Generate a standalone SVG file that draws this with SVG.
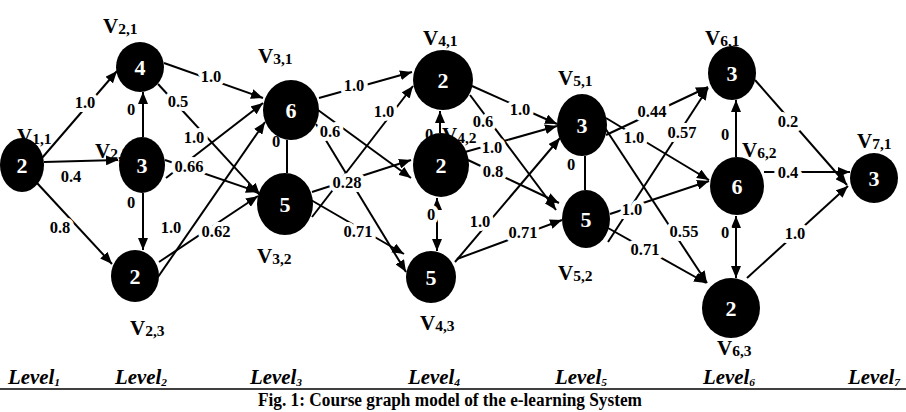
<svg xmlns="http://www.w3.org/2000/svg" width="906" height="412" viewBox="0 0 906 412">
<style>
.e{stroke:#000;stroke-width:2;fill:none}
.a{marker-end:url(#ah)}
.d{marker-start:url(#ah);marker-end:url(#ah)}
.w{font-family:"Liberation Serif",serif;font-weight:bold;font-size:16.5px;text-anchor:middle;fill:#000;stroke:#fff;stroke-width:8px;paint-order:stroke;stroke-linejoin:round}
.n{fill:#000}
.num{font-family:"Liberation Serif",serif;font-weight:bold;font-size:22px;text-anchor:middle;fill:#fff}
.v{font-family:"Liberation Serif",serif;font-weight:bold;font-size:21px;fill:#000}
.s{font-size:15.5px}
.lv{font-family:"Liberation Serif",serif;font-weight:bold;font-style:italic;font-size:20px;fill:#000}
.ls{font-size:11px}
.cap{font-family:"Liberation Serif",serif;font-weight:bold;font-size:18px;text-anchor:middle;fill:#000}
</style>
<defs>
<marker id="ah" viewBox="0 0 12 10" refX="12" refY="5" markerWidth="12" markerHeight="10" markerUnits="userSpaceOnUse" orient="auto-start-reverse"><path d="M0,0 L12,5 L0,10 z" fill="#000"/></marker>
</defs>
<rect width="906" height="412" fill="#fff"/>
<g id="connectors">
<line class="e a" x1="42" y1="158" x2="117" y2="71"/>
<line class="e a" x1="44" y1="162" x2="118" y2="160"/>
<line class="e a" x1="37" y1="183" x2="112" y2="264"/>
<line class="e a" x1="143" y1="137" x2="143" y2="92"/>
<line class="e a" x1="143" y1="193" x2="143" y2="250"/>
<line class="e a" x1="164" y1="63" x2="263" y2="98"/>
<line class="e a" x1="158" y1="84" x2="260" y2="195"/>
<line class="e a" x1="166" y1="178" x2="263" y2="103"/>
<line class="e a" x1="165" y1="160" x2="258" y2="192"/>
<line class="e a" x1="158" y1="277" x2="265" y2="122"/>
<line class="e a" x1="159" y1="262" x2="258" y2="196"/>
<line class="e" x1="287" y1="140" x2="287" y2="173"/>
<line class="e a" x1="319" y1="98" x2="412" y2="72"/>
<line class="e a" x1="312" y1="217" x2="413" y2="86"/>
<line class="e a" x1="312" y1="192" x2="411" y2="160"/>
<line class="e a" x1="311" y1="200" x2="404" y2="254"/>
<line class="e a" x1="318" y1="110" x2="411" y2="178"/>
<line class="e a" x1="316" y1="124" x2="406" y2="272"/>
<line class="e a" x1="440" y1="133" x2="440" y2="111"/>
<line class="e d" x1="437" y1="198" x2="437" y2="251"/>
<line class="e a" x1="472" y1="86" x2="557" y2="124"/>
<line class="e a" x1="470" y1="95" x2="556" y2="210"/>
<line class="e a" x1="465" y1="152" x2="557" y2="126"/>
<line class="e a" x1="468" y1="160" x2="559" y2="203"/>
<line class="e a" x1="455" y1="262" x2="560" y2="138"/>
<line class="e a" x1="457" y1="259" x2="562" y2="220"/>
<line class="e" x1="585" y1="156" x2="585" y2="190"/>
<line class="e a" x1="606" y1="135" x2="708" y2="87"/>
<line class="e a" x1="606" y1="118" x2="709" y2="180"/>
<line class="e a" x1="605" y1="128" x2="707" y2="283"/>
<line class="e a" x1="608" y1="242" x2="708" y2="88"/>
<line class="e a" x1="610" y1="214" x2="709" y2="181"/>
<line class="e a" x1="608" y1="228" x2="706" y2="283"/>
<line class="e a" x1="736" y1="157" x2="736" y2="100"/>
<line class="e d" x1="736" y1="216" x2="736" y2="278"/>
<line class="e a" x1="755" y1="80" x2="847" y2="185"/>
<line class="e a" x1="764" y1="172" x2="850" y2="172"/>
<line class="e a" x1="747" y1="278" x2="848" y2="186"/>
<text class="w" x="85" y="108">1.0</text>
<text class="w" x="71" y="182">0.4</text>
<text class="w" x="60" y="233">0.8</text>
<text class="w" x="131" y="115">0</text>
<text class="w" x="131" y="208">0</text>
<text class="w" x="211" y="82">1.0</text>
<text class="w" x="178" y="107">0.5</text>
<text class="w" x="194" y="143">1.0</text>
<text class="w" x="189" y="172">0.66</text>
<text class="w" x="171" y="233">1.0</text>
<text class="w" x="216" y="237">0.62</text>
<text class="w" x="276" y="147">0</text>
<text class="w" x="354" y="91">1.0</text>
<text class="w" x="384" y="117">1.0</text>
<text class="w" x="347" y="188">0.28</text>
<text class="w" x="358" y="237">0.71</text>
<text class="w" x="330" y="137">0.6</text>
<text class="w" x="429" y="140">0</text>
<text class="w" x="431" y="220">0</text>
<text class="w" x="520" y="115">1.0</text>
<text class="w" x="483" y="127">0.6</text>
<text class="w" x="492" y="153">1.0</text>
<text class="w" x="493" y="177">0.8</text>
<text class="w" x="480" y="227">1.0</text>
<text class="w" x="523" y="238">0.71</text>
<text class="w" x="571" y="170">0</text>
<text class="w" x="652" y="117">0.44</text>
<text class="w" x="634" y="143">1.0</text>
<text class="w" x="684" y="237">0.55</text>
<text class="w" x="682" y="138">0.57</text>
<text class="w" x="632" y="215">1.0</text>
<text class="w" x="645" y="255">0.71</text>
<text class="w" x="725" y="140">0</text>
<text class="w" x="725" y="238">0</text>
<text class="w" x="788" y="127">0.2</text>
<text class="w" x="788" y="178">0.4</text>
<text class="w" x="795" y="239">1.0</text>
</g>
<g id="v11"><text class="v" x="17" y="143">V<tspan class="s" dy="1">1,1</tspan></text><ellipse class="n" cx="22" cy="165" rx="22" ry="27"/><text class="num" x="22" y="172.5">2</text></g>
<g id="v21"><text class="v" x="103" y="33">V<tspan class="s" dy="1">2,1</tspan></text><ellipse class="n" cx="140" cy="67" rx="24" ry="25"/><text class="num" x="140" y="74.5">4</text></g>
<g id="v22"><text class="v" x="95" y="158">V<tspan class="s" dy="1">2,2</tspan></text><ellipse class="n" cx="142" cy="165" rx="23" ry="28"/><text class="num" x="142" y="172.5">3</text></g>
<g id="v23"><text class="v" x="130" y="335">V<tspan class="s" dy="1">2,3</tspan></text><ellipse class="n" cx="135" cy="276" rx="24" ry="26"/><text class="num" x="135" y="283.5">2</text></g>
<g id="v31"><text class="v" x="258" y="63">V<tspan class="s" dy="1">3,1</tspan></text><ellipse class="n" cx="291" cy="110" rx="28" ry="30"/><text class="num" x="291" y="117.5">6</text></g>
<g id="v32"><text class="v" x="257" y="263">V<tspan class="s" dy="1">3,2</tspan></text><ellipse class="n" cx="285" cy="204" rx="28" ry="31"/><text class="num" x="285" y="211.5">5</text></g>
<g id="v41"><text class="v" x="423" y="45">V<tspan class="s" dy="1">4,1</tspan></text><ellipse class="n" cx="443" cy="80" rx="30" ry="30"/><text class="num" x="443" y="87.5">2</text></g>
<g id="v42"><text class="v" x="442" y="142">V<tspan class="s" dy="1">4,2</tspan></text><ellipse class="n" cx="441" cy="165" rx="28" ry="32"/><text class="num" x="441" y="172.5">2</text></g>
<g id="v43"><text class="v" x="420" y="330">V<tspan class="s" dy="1">4,3</tspan></text><ellipse class="n" cx="431" cy="277" rx="25" ry="26"/><text class="num" x="431" y="284.5">5</text></g>
<g id="v51"><text class="v" x="558" y="85">V<tspan class="s" dy="1">5,1</tspan></text><ellipse class="n" cx="582" cy="125" rx="25" ry="31"/><text class="num" x="582" y="132.5">3</text></g>
<g id="v52"><text class="v" x="558" y="280">V<tspan class="s" dy="1">5,2</tspan></text><ellipse class="n" cx="586" cy="219" rx="24" ry="29"/><text class="num" x="586" y="226.5">5</text></g>
<g id="v61"><text class="v" x="705" y="45">V<tspan class="s" dy="1">6,1</tspan></text><ellipse class="n" cx="732" cy="73" rx="24" ry="27"/><text class="num" x="732" y="80.5">3</text></g>
<g id="v62"><text class="v" x="742" y="157">V<tspan class="s" dy="1">6,2</tspan></text><ellipse class="n" cx="737" cy="186" rx="27" ry="29"/><text class="num" x="737" y="193.5">6</text></g>
<g id="v63"><text class="v" x="717" y="355">V<tspan class="s" dy="1">6,3</tspan></text><ellipse class="n" cx="731" cy="308" rx="29" ry="30"/><text class="num" x="731" y="315.5">2</text></g>
<g id="v71"><text class="v" x="857" y="148">V<tspan class="s" dy="1">7,1</tspan></text><ellipse class="n" cx="874" cy="178" rx="24" ry="25"/><text class="num" x="874" y="185.5">3</text></g>
<g id="levels">
<text class="lv" x="8" y="384" textLength="52" lengthAdjust="spacingAndGlyphs">Level<tspan class="ls" dy="2">1</tspan></text>
<text class="lv" x="115" y="384" textLength="52" lengthAdjust="spacingAndGlyphs">Level<tspan class="ls" dy="2">2</tspan></text>
<text class="lv" x="250" y="384" textLength="52" lengthAdjust="spacingAndGlyphs">Level<tspan class="ls" dy="2">3</tspan></text>
<text class="lv" x="408" y="384" textLength="52" lengthAdjust="spacingAndGlyphs">Level<tspan class="ls" dy="2">4</tspan></text>
<text class="lv" x="555" y="384" textLength="52" lengthAdjust="spacingAndGlyphs">Level<tspan class="ls" dy="2">5</tspan></text>
<text class="lv" x="703" y="384" textLength="52" lengthAdjust="spacingAndGlyphs">Level<tspan class="ls" dy="2">6</tspan></text>
<text class="lv" x="848" y="384" textLength="52" lengthAdjust="spacingAndGlyphs">Level<tspan class="ls" dy="2">7</tspan></text>
<line x1="0" y1="389" x2="906" y2="389" stroke="#000" stroke-width="1.5"/>
<text class="cap" x="450" y="406" textLength="384" lengthAdjust="spacingAndGlyphs">Fig. 1: Course graph model of the e-learning System</text>
</g>
</svg>
